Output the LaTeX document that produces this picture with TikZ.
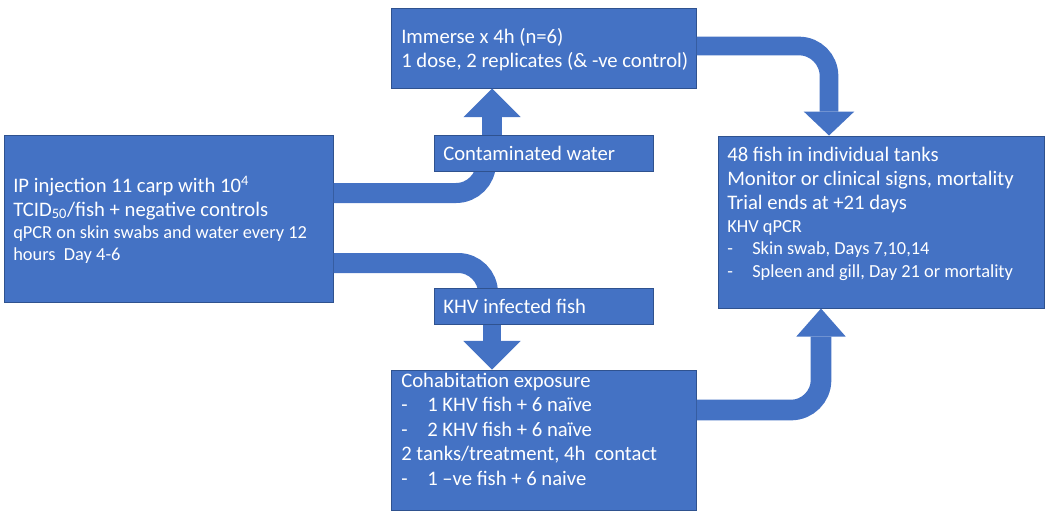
\documentclass[tikz,border=0pt]{standalone}
\usepackage{fontspec}
\setmainfont{Carlito}
\usetikzlibrary{arrows.meta,calc,fit}
\definecolor{boxblue}{HTML}{4472C4}
\definecolor{boxedge}{HTML}{2F528F}
\begin{document}
\begin{tikzpicture}[x=0.75pt,y=-0.75pt,
  box/.style={draw=boxedge, fill=boxblue, line width=0.75pt, inner sep=0pt},
  conn/.style={draw=boxblue, line width=15pt, rounded corners=22.5pt},
  bigtxt/.style={text=white, inner sep=0pt, anchor=base west, font=\fontsize{15.5pt}{18pt}\selectfont},
  smalltxt/.style={text=white, inner sep=0pt, anchor=base west, font=\fontsize{13.8pt}{17pt}\selectfont},
]
\useasboundingbox (0,0) rectangle (1045,511);

% boxes positions (invisible first pass to get anchors)
\path (4,135) coordinate (lnw) (333,302) coordinate (lse);
\node[box, fit={(4,135) (333,302)}] (left) {};
\node[box, fit={(391,8) (696,88)}] (top) {};
\node[box, fit={(718,136) (1044,308)}] (right) {};
\node[box, fit={(391,370) (696,510)}] (cohab) {};

% connectors (drawn before the label boxes so those cover the curve ends)
\draw[conn] ($(left.east)+(0,-25.5)$) -| ($(543.5,153)+(-57.5,0)$) coordinate (cwin);
\draw[conn] ($(left.east)+(0,44.5)$) -| ($(543.5,306)+(-55.5,0)$) coordinate (khvin);

\node[box, fit={(434,135) (653,171)}] (cw) {};
\node[box, fit={(434,288) (653,324)}] (khv) {};

\draw[conn, line width=15pt, -{Triangle[width=43pt,length=21.5pt,line width=0pt]}]
  ($(cw.north)+(-51.5,0)$) -- ($(top.south)+(-51.5,0)$);
\draw[conn, line width=14pt, -{Triangle[width=43pt,length=21.5pt,line width=0pt]}]
  ($(khv.south)+(-51.5,0)$) -- ($(cohab.north)+(-51.5,0)$);
\draw[conn, line width=14pt, -{Triangle[width=38pt,length=18pt,line width=0pt]}]
  ($(top.east)+(0,-2)$) -| ($(right.north)+(-52,0)$);
\draw[conn, line width=15.5pt, -{Triangle[width=37pt,length=21pt,line width=0pt]}]
  ($(cohab.east)+(0,-30)$) -| ($(right.south)+(-60,0)$);

% texts
\node[bigtxt] (l1) at (13,192) {IP injection 11 carp with 10\textsuperscript{4}};
\node[bigtxt] (l2) at (13,216) {TCID\textsubscript{50}/fish + negative controls};
\node[smalltxt] (l3) at (13,238) {qPCR on skin swabs and water every 12};
\node[smalltxt] (l4) at (13,260) {hours\ \ Day 4-6};

\node[bigtxt] (t1) at (401,43) {Immerse x 4h (n=6)};
\node[bigtxt] (t2) at (401,67) {1 dose, 2 replicates (\& -ve control)};

\node[bigtxt] (cwt) at (443,160) {Contaminated water};
\node[bigtxt] (khvt) at (443,313) {KHV infected fish};

\node[bigtxt] (c1) at (401,387) {Cohabitation exposure};
\node[bigtxt] (c2) at (401,411) {\makebox[19.5pt][l]{-}1 KHV fish + 6 naïve};
\node[bigtxt] (c3) at (401,436) {\makebox[19.5pt][l]{-}2 KHV fish + 6 naïve};
\node[bigtxt] (c4) at (401,460) {2 tanks/treatment, 4h\ \ contact};
\node[bigtxt] (c5) at (401,485) {\makebox[19.5pt][l]{-}1 –ve fish + 6 naive};

\node[bigtxt] (r1) at (727,161) {48 fish in individual tanks};
\node[bigtxt] (r2) at (727,185) {Monitor or clinical signs, mortality};
\node[bigtxt] (r3) at (727,209) {Trial ends at +21 days};
\node[smalltxt] (r4) at (727,232) {KHV qPCR};
\node[smalltxt] (r5) at (727,254) {\makebox[18.75pt][l]{-}Skin swab, Days 7,10,14};
\node[smalltxt] (r6) at (727,277) {\makebox[18.75pt][l]{-}Spleen and gill, Day 21 or mortality};
\end{tikzpicture}
\end{document}
